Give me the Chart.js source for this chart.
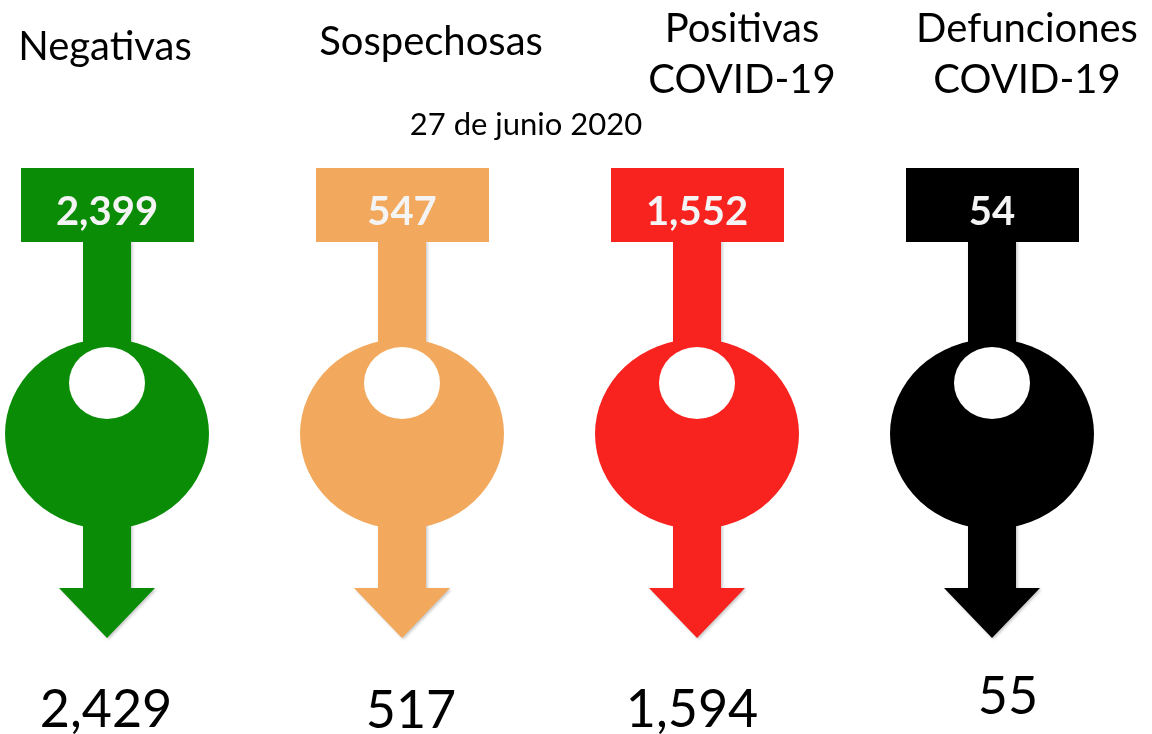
<!DOCTYPE html>
<html>
<head>
<meta charset="utf-8">
<script src="https://cdn.jsdelivr.net/npm/chart.js@4.4.1/dist/chart.umd.min.js"></script>
<style>
  body { margin: 0; background: #fff; }
  #wrap { width: 1152px; height: 734px; }
</style>
</head>
<body>
<div id="wrap"><canvas id="myChart" width="1152" height="734"></canvas></div>
<script>
var categories = [['Negativas'], ['Sospechosas'], ['Positivas', 'COVID-19'], ['Defunciones', 'COVID-19']];
var previousValues = [2399, 547, 1552, 54];   // number in the top box
var currentValues = [2429, 517, 1594, 55];    // number under the arrow
var dateLabel = '27 de junio 2020';
var colors = ['#0a8c06', '#f2a95d', '#f8221f', '#000000'];

// small nudges so texts sit where they do in the original (dx, baseline)
var titleShift = [[-2, 60], [29, 55], [45, 42], [35, 42]];
var bottomShift = [[-1, 727], [9, 728], [-5, 727], [16, 714]];

function fmt(v) { return v.toLocaleString('en-US'); }

function drawGlyph(ctx, cx, color) {
    ctx.fillStyle = color;
    // stem and arrow head as one outline, with a faint shadow
    ctx.save();
    ctx.shadowColor = 'rgba(0,0,0,0.22)';
    ctx.shadowBlur = 3;
    ctx.shadowOffsetX = 1.5;
    ctx.shadowOffsetY = 1.5;
    ctx.beginPath();
    ctx.moveTo(cx - 24, 240);
    ctx.lineTo(cx + 24, 240);
    ctx.lineTo(cx + 24, 588);
    ctx.lineTo(cx + 48, 588);
    ctx.lineTo(cx, 638);
    ctx.lineTo(cx - 48, 588);
    ctx.lineTo(cx - 24, 588);
    ctx.closePath();
    ctx.fill();
    ctx.restore();
    // top box
    ctx.fillStyle = color;
    ctx.fillRect(cx - 86, 168, 173, 74);
    // big circle
    ctx.beginPath();
    ctx.ellipse(cx, 434, 102, 95, 0, 0, 2 * Math.PI);
    ctx.fill();
    // hole
    ctx.fillStyle = '#fff';
    ctx.beginPath();
    ctx.ellipse(cx, 383, 38, 36, 0, 0, 2 * Math.PI);
    ctx.fill();
}

var glyphs = {
    id: 'glyphs',
    afterDatasetsDraw: function(chart) {
        var ctx = chart.ctx;
        var xs = chart.scales.x;
        ctx.save();
        ctx.textAlign = 'center';
        ctx.textBaseline = 'alphabetic';
        for (let i = 0; i < categories.length; i++) {
            let cx = xs.getPixelForValue(i);
            drawGlyph(ctx, cx, colors[i]);

            // previous value inside the box
            ctx.fillStyle = '#f4f4f4';
            ctx.font = 'bold 40px Lato';
            ctx.fillText(fmt(previousValues[i]), cx, 225);

            // category title
            ctx.fillStyle = '#000';
            ctx.font = '40px Lato';
            let lines = categories[i];
            for (let j = 0; j < lines.length; j++) {
                ctx.fillText(lines[j], cx + titleShift[i][0], titleShift[i][1] + j * 51);
            }

            // current value under the arrow
            ctx.font = '52px Lato';
            ctx.fillText(fmt(currentValues[i]), cx + bottomShift[i][0], bottomShift[i][1]);
        }
        // date
        ctx.font = '31px Lato';
        ctx.fillText(dateLabel, 526, 135);
        ctx.restore();
    }
};

var ctx = document.getElementById('myChart').getContext('2d');
var myChart = new Chart(ctx, {
    type: 'line',
    data: {
        labels: categories.map(function(c) { return c.join(' '); }),
        datasets: [{
            data: currentValues,
            showLine: false,
            pointRadius: 0
        }]
    },
    options: {
        responsive: false,
        animation: false,
        layout: { padding: { left: 107, right: 160, top: 0, bottom: 0 } },
        plugins: { legend: { display: false }, tooltip: { enabled: false } },
        scales: {
            x: { display: false, offset: false },
            y: { display: false }
        }
    },
    plugins: [glyphs]
});
</script>
</body>
</html>
